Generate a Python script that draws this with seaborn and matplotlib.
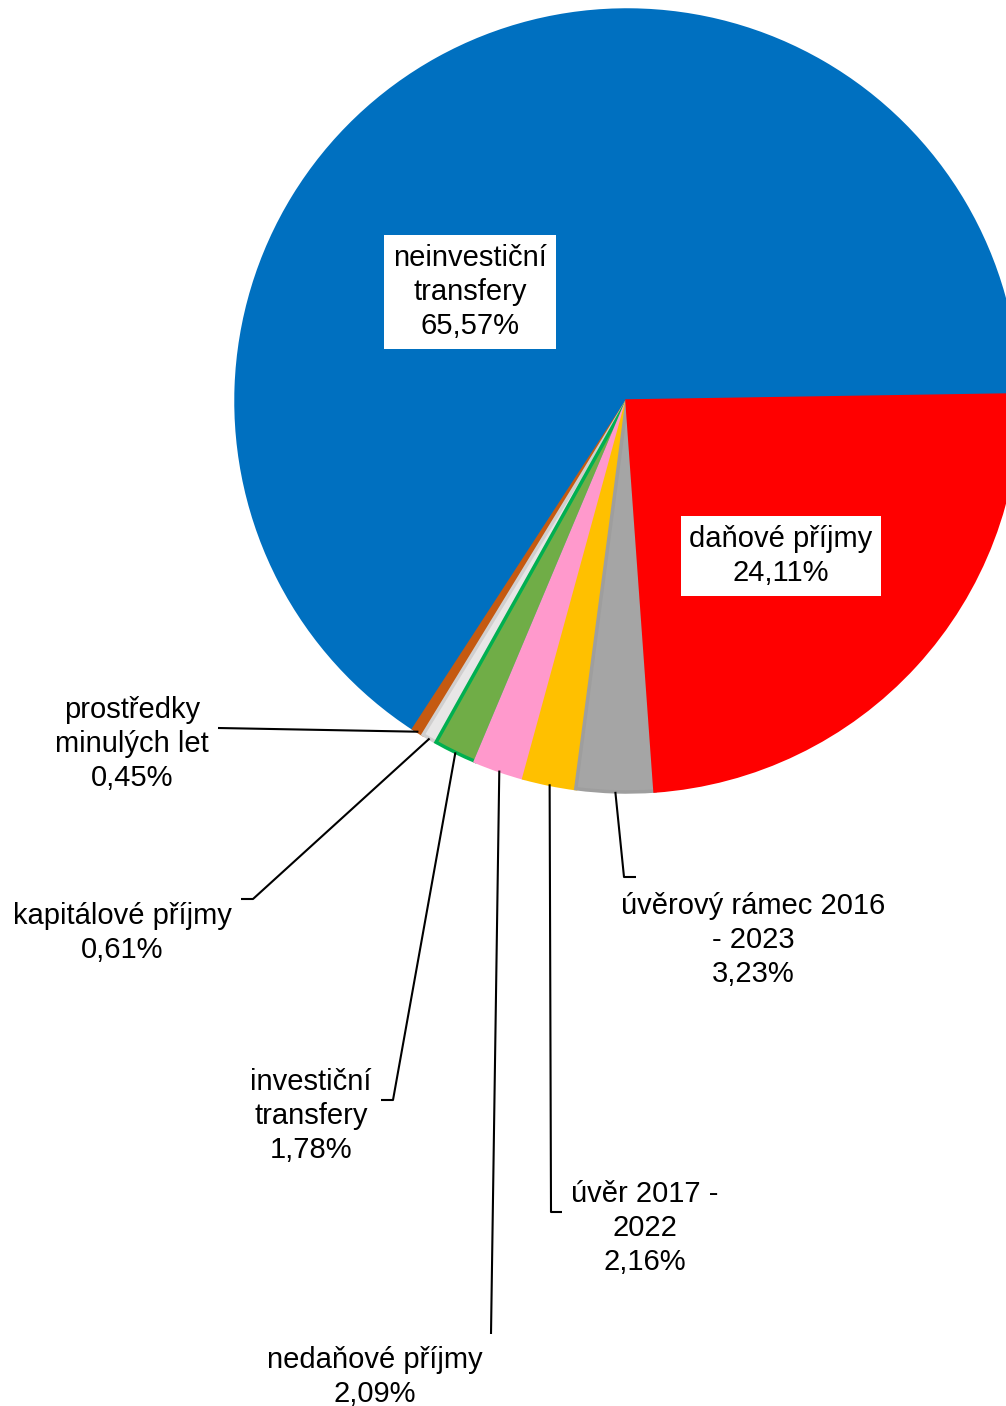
import numpy as np
import seaborn as sns
import matplotlib.pyplot as plt

# data (counterclockwise from the blue/red boundary)
categories = ["neinvestiční\ntransfery", "prostředky\nminulých let", "kapitálové příjmy",
              "investiční\ntransfery", "nedaňové příjmy", "úvěr 2017 -\n2022",
              "úvěrový rámec 2016\n- 2023", "daňové příjmy"]
shares = [65.57, 0.45, 0.61, 1.78, 2.09, 2.16, 3.23, 24.11]
fills = ["#0070C0", "#C55A11", "#E7E6E6", "#70AD47", "#FF99CC", "#FFC000", "#A5A5A5", "#FF0000"]
edges = ["#0070C0", "#C55A11", "#D0CFCF", "#00B050", "#FF99CC", "#FFC000", "#9E9E9E", "#FF0000"]

sns.set_theme(style="white")
plt.rcParams['font.family'] = ['Liberation Sans', 'DejaVu Sans']

W, H = 1006, 1406
fig = plt.figure(figsize=(W / 100, H / 100), dpi=100)
ax = fig.add_axes([0, 0, 1, 1])
ax.set_aspect('equal')
ax.axis('off')

cx, cy, r = 627, -401, 391
wedges, _ = ax.pie(shares, colors=fills, startangle=0.9, counterclock=True,
                   center=(cx, cy), radius=r,
                   wedgeprops=dict(linewidth=2.5))
for w, ec in zip(wedges, edges):
    w.set_edgecolor(ec)
ax.set_xlim(0, W)
ax.set_ylim(-H, 0)

def lab(i):
    return f"{categories[i]}\n{shares[i]:.2f}%".replace('.', ',')

fs = 21
ls = 1.28
# labels inside slices (white boxes)
ax.text(470, -292, lab(0), ha='center', va='center', fontsize=fs, linespacing=ls, color='black',
        bbox=dict(boxstyle='square,pad=0.3', fc='white', ec='none'))
ax.text(781, -556, lab(7), ha='center', va='center', fontsize=fs, linespacing=ls, color='black',
        bbox=dict(boxstyle='square,pad=0.3', fc='white', ec='none'))

# outside labels: (index, text center, leader path after slice point)
outside = [
    (1, (132, -744), [(218, -728)]),
    (2, (122, -933), [(253, -899), (241, -899)]),
    (3, (311, -1116), [(393, -1100), (381, -1100)]),
    (4, (375, -1377), [(491, -1334)]),
    (5, (645, -1228), [(551, -1212), (562, -1212)]),
    (6, (753, -940), [(624, -877), (636, -877)]),
]
for i, (tx, ty), path in outside:
    w = wedges[i]
    ang = np.deg2rad((w.theta1 + w.theta2) / 2)
    px, py = cx + r * np.cos(ang), cy + r * np.sin(ang)
    xs = [px] + [p[0] for p in path]
    ys = [py] + [p[1] for p in path]
    ax.plot(xs, ys, color='black', lw=1.5, solid_capstyle='butt')
    ax.text(tx, ty, lab(i), ha='center', va='center', fontsize=fs, linespacing=ls, color='black')

fig.savefig("out.png", dpi=100)
